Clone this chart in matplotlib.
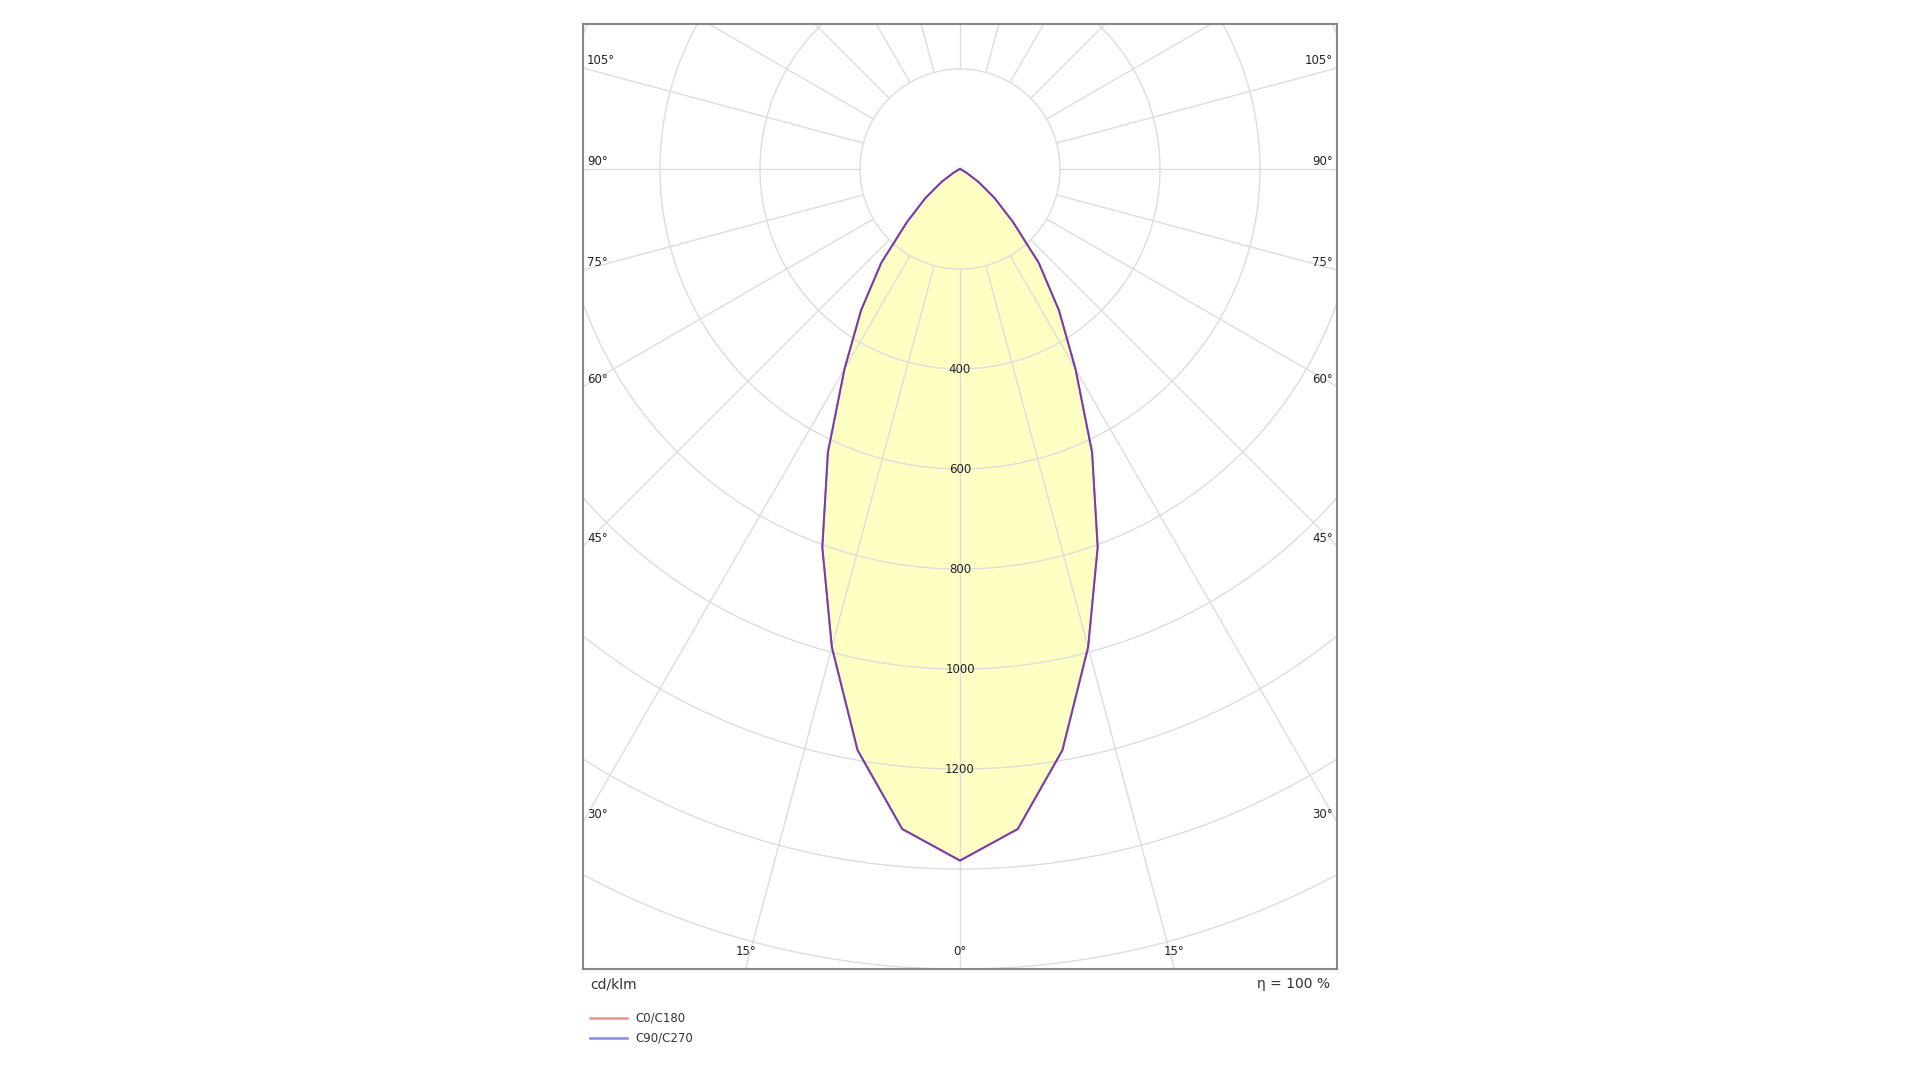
import numpy as np
import matplotlib
matplotlib.use("Agg")
import matplotlib.pyplot as plt

gamma = [0, 5, 10, 15, 20, 25, 30, 35, 40, 45, 50, 55, 60, 65, 70, 80, 90]
c0_c180 = [1383, 1325, 1180, 990, 805, 625, 462, 345, 245, 150, 90, 45, 15, 4, 0, 0, 0]
c90_c270 = [1383, 1325, 1180, 990, 805, 625, 462, 345, 245, 150, 90, 45, 15, 4, 0, 0, 0]
ring_values = [200, 400, 600, 800, 1000, 1200, 1400, 1600, 1800, 2000]
ring_labels = [400, 600, 800, 1000, 1200]
side_angles = [105, 90, 75, 60, 45, 30]
bottom_angles = [-15, 0, 15]

W, H = 1568, 882
fig = plt.figure(figsize=(19.2, 10.8), dpi=100)
ax = fig.add_axes([476/W, 1-791/H, (1092-476)/W, (791-20)/H])
XL, YB, YT = 754, -1599, 289
ax.set_xlim(-XL, XL)
ax.set_ylim(YB, YT)
ax.set_aspect('equal')
ax.set_xticks([]); ax.set_yticks([])
for s in ax.spines.values():
    s.set_color('#888888'); s.set_linewidth(1.5)

def curve(vals):
    g = np.radians(np.array(gamma, float))
    r = np.array(vals, float)
    xr, yr = r*np.sin(g), -r*np.cos(g)
    x = np.concatenate([-xr[::-1], xr[1:]])
    y = np.concatenate([yr[::-1], yr[1:]])
    return x, y

x0, y0 = curve(c0_c180)
x1, y1 = curve(c90_c270)
ax.fill(x0, y0, color='#ffffc4', zorder=1, lw=0)

gc = '#dddddd'
t = np.linspace(0, 2*np.pi, 400)
for rv in ring_values:
    ax.plot(rv*np.cos(t), rv*np.sin(t), color=gc, lw=1, zorder=2)
for a in range(0, 360, 15):
    ar = np.radians(a)
    ax.plot([200*np.sin(ar), 3000*np.sin(ar)], [-200*np.cos(ar), -3000*np.cos(ar)],
            color=gc, lw=1, zorder=2)

ax.plot(x0, y0, color='#e06080', lw=1.4, zorder=3)
ax.plot(x1, y1, color='#5030c0', lw=1.4, alpha=0.75, zorder=4)

for v in ring_labels:
    ax.text(0, -v, str(v), ha='center', va='center', fontsize=8.5, color='#222222', zorder=5)
for a in side_angles:
    ar = np.radians(a)
    y = -XL/np.tan(ar) if a != 90 else 0
    if a == 90: y = 0
    else: y = XL*(-np.cos(ar))/np.sin(ar)
    ax.text(-XL+8, y+15, f"{a}°", ha='left', va='center', fontsize=8.5, color='#222222')
    ax.text(XL-8, y+15, f"{a}°", ha='right', va='center', fontsize=8.5, color='#222222')
for a in bottom_angles:
    xb = YB*np.tan(np.radians(a))
    ax.text(-xb, YB+35, f"{abs(a)}°", ha='center', va='center', fontsize=8.5, color='#222222')

fig.text(482/W, 1-804/H, "cd/klm", ha='left', va='center', fontsize=10, color='#333333')
fig.text(1086/W, 1-804/H, "η = 100 %", ha='right', va='center', fontsize=10, color='#333333')
for yy, col, lab in [(831, '#f09090', 'C0/C180'), (848, '#8888dd', 'C90/C270')]:
    fig.add_artist(plt.Line2D([482/W, 512/W], [1-yy/H, 1-yy/H], color=col, lw=1.8))
    fig.text(519/W, 1-yy/H, lab, ha='left', va='center', fontsize=8.5, color='#333333')

fig.savefig("out.png", dpi=100, facecolor='white')
